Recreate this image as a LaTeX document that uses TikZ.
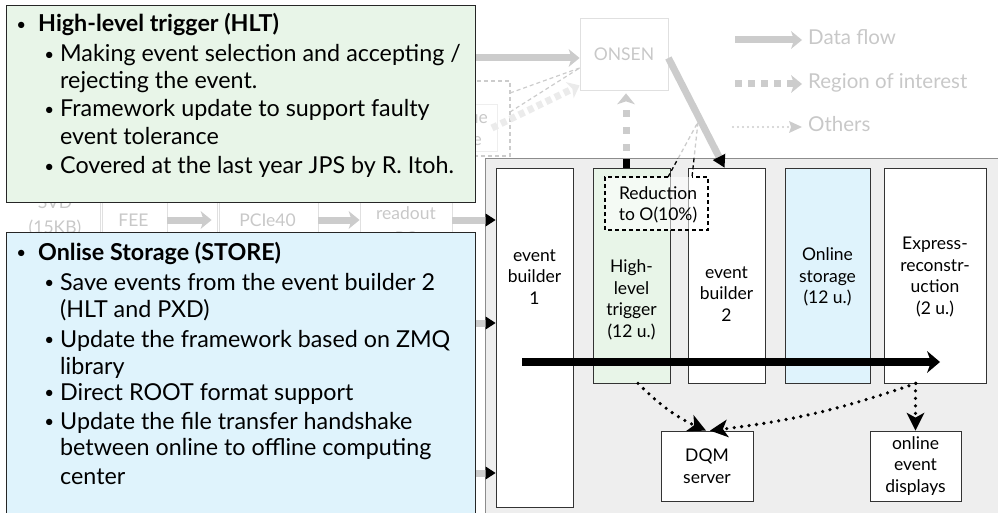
\documentclass[tikz,border=0pt]{standalone}
\usepackage{fontspec}
\setmainfont{Lato}
\usetikzlibrary{arrows.meta,positioning,calc}

\definecolor{hltgreen}{HTML}{E8F5E8}
\definecolor{storeblue}{HTML}{DFF3FC}
\definecolor{fadetext}{HTML}{C8C8C8}
\definecolor{fadeline}{HTML}{CCCCCC}
\definecolor{fadeedge}{HTML}{E0E0E0}
\definecolor{roilight}{HTML}{EBEBEB}
\definecolor{farm}{HTML}{EEEEEE}

\newcommand{\bul}{\raisebox{1.5pt}{\fontsize{17}{17}\selectfont\textbullet}}
\newcommand{\itm}{\llap{\bul\hspace{6pt}}}
\newcommand{\itmtop}{\llap{\bul\hspace{12pt}}}

\tikzset{
    unit/.style={draw=black!80, fill=white, line width=0.8pt, inner sep=0pt},
    lbl/.style={align=center, inner sep=0pt, font=\fontsize{17.5}{21.5}\selectfont},
    item/.style={anchor=base west, inner sep=0pt, font=\fontsize{23.3}{26}\selectfont},
    fadebox/.style={draw=fadeedge, line width=0.8pt, inner sep=0pt},
    fadetxt/.style={text=fadetext, align=center, inner sep=0pt, font=\fontsize{17.5}{25}\selectfont},
    legtxt/.style={text=fadetext, anchor=west, inner sep=0pt, text height=14pt, text depth=4pt, font=\fontsize{20.5}{24}\selectfont},
    flow/.style={fadeline, line width=7pt, -{Stealth[length=11pt,width=18pt,inset=3pt,line width'=0pt]}},
    feed/.style={fadeline, line width=7pt, -{Triangle[length=10pt,width=13pt,line width'=0pt,color=black]}},
    roi/.style={fadeline, line width=7pt, dash pattern=on 7pt off 6pt, -{Stealth[length=11pt,width=18pt,inset=3pt,line width'=0pt]}},
    others/.style={line width=3.6pt, line cap=round, dash pattern=on 0pt off 7.5pt, -{Stealth[length=18pt,width=18pt,inset=5pt,line width'=0pt]}},
    bus/.style={line width=8pt, -{Stealth[length=13pt,width=22pt,inset=4pt,line width'=0pt]}},
    callout/.style={dash pattern=on 4pt off 3pt, line width=1.3pt},
}

\begin{document}
\begin{tikzpicture}[x=1pt,y=-1pt]
    \useasboundingbox (0,0) rectangle (998,513);

    % farm region
    \fill[farm] (485,159) rectangle (1005,520);
    \draw[black!45, line width=1pt] (485,520) -- (485,159) -- (1005,159);

    % units
    \node[unit, minimum width=77pt, minimum height=339pt] (eb1) at (534.5,337.5) {};
    \node[unit, fill=hltgreen, minimum width=77pt, minimum height=215pt] (hlt) at (631.5,275.5) {};
    \node[unit, minimum width=77pt, minimum height=215pt] (eb2) at (726.5,275.5) {};
    \node[unit, fill=storeblue, minimum width=85pt, minimum height=215pt] (sto) at (827.5,275.5) {};
    \node[unit, minimum width=102pt, minimum height=215pt] (expr) at (935,275.5) {};
    \node[unit, lbl, minimum width=92pt, minimum height=70pt] (dqm) at (707,466) {DQM\\server};
    \node[unit, lbl, minimum width=91pt, minimum height=70pt] (disp) at (915.5,466) {online\\event\\displays};

    \node[lbl] (eb1t) at (534.5,277) {event\\builder\\1};
    \node[lbl] (hltt) at (631.5,300) {High-\\level\\trigger\\(12 u.)};
    \node[lbl] (eb2t) at (726.5,294) {event\\builder\\2};
    \node[lbl] (stot) at (827.5,277) {Online\\storage\\(12 u.)};
    \node[lbl] (exprt) at (935,277) {Express-\\reconstr-\\uction\\(2 u.)};

    % ONSEN and legend
    \node[fadebox, fadetxt, minimum width=88pt, minimum height=72pt] (onsen) at (624,54) {ONSEN};
    \node[legtxt] (lgflow) at (808,40) {Data flow};
    \node[legtxt] (lgroi) at (808,84) {Region of interest};
    \node[legtxt] (lgoth) at (808,127) {Others};
    \coordinate (lgflow0) at (735,40);
    \coordinate (lgroi0) at (735,84);
    \coordinate (lgoth0) at (733,127);
    \draw[flow, shorten >=6pt] (lgflow0) -- (lgflow.west);
    \draw[roi, shorten >=6pt] (lgroi0) -- (lgroi.west);
    \draw[fadeline, line width=2.2pt, line cap=round, dash pattern=on 0pt off 5pt,
        -{Stealth[length=13pt,width=12pt,inset=2pt,line width'=0pt]}, shorten >=6pt] (lgoth0) -- (lgoth.west);

    % readout chain
    \node[fadetxt] (svd) at (55,216) {SVD\\(15KB)};
    \node[fadebox, fadetxt, minimum width=67pt, minimum height=80pt] (fee) at (133.5,220) {FEE};
    \node[fadebox, fadetxt, minimum width=101pt, minimum height=80pt] (pcie) at (267.5,220) {PCIe40};
    \node[fadebox, minimum width=92pt, minimum height=80pt] (ropc) at (406,220) {};
    \node[fadetxt] (ropct) at (406,226) {readout\\PC};
    \draw[fadeedge, line width=0.8pt] ([xshift=3pt]fee.north west) -- ([xshift=3pt]fee.south west);
    \draw[fadeedge, line width=0.8pt] ([xshift=3pt]pcie.north west) -- ([xshift=3pt]pcie.south west);
    \draw[flow, shorten >=5pt] (fee) -- (pcie);
    \draw[flow] (pcie) -- (ropc);
    \draw[feed] (ropc) -- (ropc -| eb1.west);
    \coordinate (in2) at (470,323);
    \coordinate (in3) at (470,473);
    \draw[feed] (in2) -- (in2 -| eb1.west);
    \draw[feed] (in3) -- (in3 -| eb1.west);

    % trigger side
    \coordinate (trg) at (470,58);
    \draw[flow] (trg) -- ([yshift=-4pt]onsen.west);
    \node[fadebox, draw=farm, minimum width=60pt, minimum height=47pt] (lutbox) at (467,127.5) {};
    \node[fadetxt, anchor=base east] (lut1) at (488,124) {lue};
    \node[fadetxt, anchor=base east] (lut2) at (482,146) {e};
    \draw[fadeline, callout, line width=1.2pt] (470,81) -- (510,81) -- (510,156) -- (470,156);
    \coordinate (zm1) at (510,93);
    \coordinate (zm2) at (510,112);
    \draw[fadeline, callout, line width=1.2pt] (zm1) -- ([yshift=-14pt]onsen.west);
    \draw[fadeline, callout, line width=1.2pt] (zm2) -- ([yshift=-14pt]onsen.west);
    \coordinate (roi2) at (492,128);
    \draw[roi, roilight, dash pattern=on 6pt off 4pt] (roi2) -- ([yshift=5pt]onsen.south west);

    % roi from HLT
    \coordinate (roi0) at (626,168);
    \draw[roi, dash pattern=on 7pt off 10pt, shorten >=3pt] (roi0) -- (roi0 |- onsen.south);
    \draw[line width=7pt] (roi0) -- ++(0,-9);

    % data to event builder 2
    \draw[fadeline, line width=7pt, -{Triangle[length=12pt,width=14pt,color=black,line width'=0pt]}]
        ([yshift=-4pt]onsen.east) -- ([xshift=-2pt]eb2.north);

    % reduction callout
    \fill[white, fill opacity=0.55] (605,177) rectangle (708,230);
    \node[lbl] (redt) at (658,205) {Reduction\\to O(10\%)};
    \coordinate (redtip) at (698,122);
    \draw[callout] (668,177) -- (605,177) -- (605,230) -- (708,230) -- (708,177) -- (692,177);
    \draw[callout] (668,177) -- ($(668,177)!0.34!(redtip)$);
    \draw[callout, fadeline] ($(668,177)!0.34!(redtip)$) -- (redtip) -- ($(692,177)!0.34!(redtip)$);
    \draw[callout] ($(692,177)!0.34!(redtip)$) -- (692,177);

    % event flow
    \coordinate (bus0) at (522,362);
    \coordinate (bus1) at (940,362);
    \draw[bus] (bus0) -- (bus1);
    \draw[others] ([xshift=6.5pt]hlt.south) to[bend right=10] ([xshift=-1pt]dqm.north);
    \draw[others] ([xshift=-19pt]expr.south) to[bend left=6] ([xshift=3pt]dqm.north);
    \draw[others] (disp.north |- expr.south) -- (disp.north);

    % HLT text box
    \node[draw=black!85, fill=hltgreen, line width=1.2pt, minimum width=469pt, minimum height=197pt,
        inner sep=0pt, anchor=north west] (hltbox) at (6,5) {};
    \node[item] (hlt0) at (38,32) {\itmtop\bfseries High-level trigger (HLT)};
    \foreach \n/\yy/\t in {1/62/{\itm Making event selection and accepting /},
                           2/89/{rejecting the event.},
                           3/117/{\itm Framework update to support faulty},
                           4/145/{event tolerance},
                           5/174/{\itm Covered at the last year JPS by R. Itoh.}} {
        \node[item] (hlt\n) at (60,\yy) {\t};
    }

    % STORE text box
    \node[draw=black!85, fill=storeblue, line width=1.2pt, minimum width=469pt, minimum height=290pt,
        inner sep=0pt, anchor=north west] (stobox) at (6,232) {};
    \node[item] (sto0) at (38,260) {\itmtop\bfseries Onlise Storage (STORE)};
    \foreach \n/\yy/\t in {1/290/{\itm Save events from the event builder 2},
                           2/317/{(HLT and PXD)},
                           3/347/{\itm Update the framework based on ZMQ},
                           4/374/{library},
                           5/400/{\itm Direct ROOT format support},
                           6/429/{\itm Update the file transfer handshake},
                           7/455/{between online to offline computing},
                           8/484/{center}} {
        \node[item] (sto\n) at (60,\yy) {\t};
    }
\end{tikzpicture}
\end{document}
